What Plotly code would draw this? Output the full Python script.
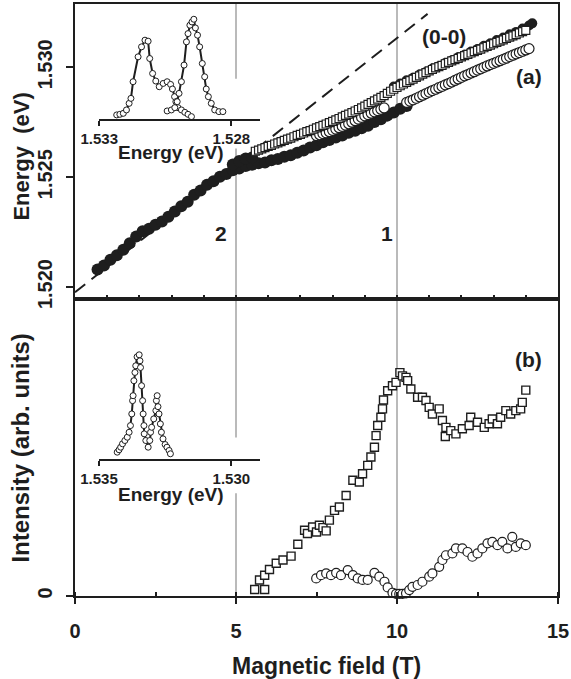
import plotly.graph_objects as go

# ---------------- data ----------------
x_ticks = [0, 5, 10, 15]
x_tick_labels = ["0", "5", "10", "15"]
energy_ticks = [1.520, 1.525, 1.530]
energy_tick_labels = ["1.520", "1.525", "1.530"]

# (a) filled circles, lower branch (plus a few points near 5-6 T)
B_filled_low = [0.7, 0.9, 1.1, 1.3, 1.5, 1.7, 1.9, 2.1, 2.3, 2.5, 2.7, 2.9, 3.1, 3.3, 3.5, 3.7, 3.9,
                4.1, 4.3, 4.5, 4.7, 4.9, 5.1, 5.3, 5.5, 5.7, 5.9, 6.1, 6.3, 6.5, 6.7, 6.9, 7.1, 7.3,
                7.5, 7.7, 7.9, 8.1, 8.3, 8.5, 8.7, 8.9, 9.1, 9.3, 9.5, 9.7, 9.9, 10.1, 10.3,
                4.9, 5.1, 5.3, 5.5]
E_filled_low = [1.52080, 1.52098, 1.52124, 1.52145, 1.52170, 1.52199, 1.52230, 1.52254, 1.52265,
                1.52283, 1.52298, 1.52320, 1.52344, 1.52368, 1.52388, 1.52420, 1.52439, 1.52465,
                1.52481, 1.52502, 1.52514, 1.52531, 1.52539, 1.52551, 1.52557, 1.52563, 1.52567,
                1.52577, 1.52583, 1.52593, 1.52600, 1.52611, 1.52621, 1.52635, 1.52645, 1.52659,
                1.52669, 1.52681, 1.52690, 1.52702, 1.52711, 1.52723, 1.52734, 1.52751, 1.52764,
                1.52780, 1.52794, 1.52811, 1.52824,
                1.52558, 1.52574, 1.52585, 1.52590]

# (a) filled circles, upper branch
B_filled_high = [9.9, 10.1, 10.3, 10.5, 10.7, 10.9, 11.1, 11.3, 11.5, 11.7, 11.9, 12.1, 12.3, 12.5,
                 12.7, 12.9, 13.1, 13.3, 13.5, 13.7, 13.9, 14.1, 14.2]
E_filled_high = [1.52912, 1.52926, 1.52941, 1.52952, 1.52967, 1.52979, 1.52994, 1.53005, 1.53020,
                 1.53031, 1.53046, 1.53057, 1.53072, 1.53083, 1.53098, 1.53109, 1.53124, 1.53135,
                 1.53150, 1.53161, 1.53176, 1.53190, 1.53200]

# (a) open squares
B_squares_a = [5.6, 5.7, 5.8, 5.9, 6.0, 6.1, 6.2, 6.3, 6.4, 6.5, 6.6, 6.7, 6.8, 6.9, 7.0, 7.1, 7.2,
               7.3, 7.4, 7.5, 7.6, 7.7, 7.8, 7.9, 8.0, 8.1, 8.2, 8.3, 8.4, 8.5, 8.6, 8.7, 8.8, 8.9,
               9.0, 9.1, 9.2, 9.3, 9.4, 9.5, 9.6, 9.7, 9.8, 9.9, 10.0, 10.1, 10.2, 10.3, 10.4, 10.5,
               10.6, 10.7, 10.8, 10.9, 11.0, 11.1, 11.2, 11.3, 11.4, 11.5, 11.6, 11.7, 11.8, 11.9,
               12.0, 12.1, 12.2, 12.3, 12.4, 12.5, 12.6, 12.7, 12.8, 12.9, 13.0, 13.1, 13.2, 13.3,
               13.4, 13.5, 13.6, 13.7, 13.8, 13.9, 14.0]
E_squares_a = [1.52618, 1.52623, 1.52629, 1.52634, 1.52640, 1.52645, 1.52651, 1.52656, 1.52662,
               1.52667, 1.52673, 1.52678, 1.52684, 1.52690, 1.52695, 1.52701, 1.52707, 1.52712,
               1.52718, 1.52724, 1.52730, 1.52736, 1.52742, 1.52748, 1.52754, 1.52761, 1.52767,
               1.52774, 1.52781, 1.52787, 1.52794, 1.52801, 1.52808, 1.52815, 1.52823, 1.52831,
               1.52839, 1.52847, 1.52855, 1.52863, 1.52871, 1.52881, 1.52891, 1.52900, 1.52908,
               1.52916, 1.52924, 1.52931, 1.52939, 1.52946, 1.52954, 1.52961, 1.52969, 1.52976,
               1.52984, 1.52990, 1.52997, 1.53003, 1.53009, 1.53016, 1.53022, 1.53029, 1.53035,
               1.53041, 1.53047, 1.53053, 1.53059, 1.53065, 1.53071, 1.53077, 1.53083, 1.53089,
               1.53095, 1.53101, 1.53107, 1.53113, 1.53119, 1.53125, 1.53131, 1.53137, 1.53143,
               1.53149, 1.53156, 1.53162, 1.53168]

# (a) open circles
B_circles_a = [7.5, 7.6, 7.7, 7.8, 7.9, 8.0, 8.1, 8.2, 8.3, 8.4, 8.5, 8.6, 8.7, 8.8, 8.9, 9.0, 9.1,
               9.2, 9.3, 9.4, 9.5, 9.6,
               10.3, 10.4, 10.5, 10.6, 10.7, 10.8, 10.9, 11.0, 11.1, 11.2, 11.3, 11.4, 11.5, 11.6,
               11.7, 11.8, 11.9, 12.0, 12.1, 12.2, 12.3, 12.4, 12.5, 12.6, 12.7, 12.8, 12.9, 13.0,
               13.1, 13.2, 13.3, 13.4, 13.5, 13.6, 13.7, 13.8, 13.9, 14.0, 14.1]
E_circles_a = [1.52689, 1.52693, 1.52698, 1.52702, 1.52707, 1.52713, 1.52719, 1.52725, 1.52731,
               1.52737, 1.52743, 1.52750, 1.52757, 1.52764, 1.52772, 1.52779, 1.52785, 1.52791,
               1.52797, 1.52803, 1.52809, 1.52815,
               1.52840, 1.52846, 1.52852, 1.52859, 1.52866, 1.52873, 1.52880, 1.52887, 1.52894,
               1.52900, 1.52907, 1.52913, 1.52920, 1.52926, 1.52933, 1.52940, 1.52947, 1.52954,
               1.52961, 1.52967, 1.52974, 1.52980, 1.52987, 1.52993, 1.53000, 1.53006, 1.53012,
               1.53018, 1.53024, 1.53030, 1.53036, 1.53042, 1.53049, 1.53055, 1.53061, 1.53067,
               1.53073, 1.53079, 1.53085]

# (0-0) dashed line end points
B_zero = [0.0, 10.95]
E_zero = [1.51976, 1.53243]

# (b) intensities, open squares
B_squares_b = [5.58, 5.73, 5.89, 5.89, 6.04, 6.25, 6.46, 6.71, 6.92, 7.13, 7.22, 7.38, 7.5, 7.59,
               7.7, 7.80, 7.90, 8.06, 8.21, 8.42, 8.63, 8.83, 8.93, 9.09, 9.19, 9.30, 9.35, 9.40,
               9.50, 9.55, 9.58, 9.71, 9.86, 9.97, 10.09, 10.17, 10.28, 10.33, 10.43, 10.64, 10.79,
               10.90, 11.00, 11.10, 11.31, 11.41, 11.50, 11.52, 11.67, 11.83, 12.03, 12.24, 12.29,
               12.50, 12.71, 12.86, 12.96, 13.12, 13.22, 13.38, 13.53, 13.69, 13.84, 13.89, 14.00]
I_squares_b = [2.2, 5.4, 2.2, 7.0, 8.9, 11.0, 12.1, 13.4, 17.4, 22.1, 21.0, 23.2, 21.5, 23.8, 23.0,
               21.9, 25.5, 28.8, 29.9, 33.8, 38.9, 38.3, 41.1, 43.9, 46.7, 50.0, 53.9, 57.3, 60.1,
               62.9, 65.9, 69.0, 70.7, 71.8, 75.1, 74.0, 73.5, 72.4, 69.6, 66.8, 66.8, 65.7, 63.4,
               61.2, 62.9, 59.0, 53.6, 56.7, 55.6, 54.5, 56.2, 57.3, 60.1, 58.4, 56.7, 57.9, 59.5,
               57.9, 60.1, 62.3, 61.2, 62.3, 62.9, 65.1, 69.2]

# (b) intensities, open circles
B_circles_b = [7.49, 7.64, 7.80, 7.95, 8.11, 8.26, 8.47, 8.63, 8.78, 8.93, 9.09, 9.30, 9.45, 9.61,
               9.71, 9.86, 9.97, 10.07, 10.17, 10.28, 10.38, 10.48, 10.64, 10.79, 11.00, 11.10,
               11.31, 11.41, 11.52, 11.72, 11.83, 12.03, 12.19, 12.34, 12.50, 12.65, 12.81, 12.96,
               13.12, 13.27, 13.43, 13.58, 13.69, 13.84, 14.00]
I_circles_b = [5.9, 7.0, 7.6, 7.0, 7.8, 7.0, 8.7, 7.0, 5.9, 5.4, 5.4, 7.8, 6.5, 4.8, 2.9, 1.1, 0.7,
               0.7, 0.7, 0.9, 2.0, 3.1, 3.7, 4.8, 6.5, 7.6, 9.8, 12.1, 13.7, 14.3, 16.0, 16.0, 14.8,
               13.2, 14.3, 16.0, 17.7, 18.2, 17.1, 18.2, 16.0, 19.9, 16.5, 17.7, 17.1]

# inset (a): two spectra
inset_a_ticks = [1.533, 1.528]
E_inset_a1 = [1.53234, 1.53222, 1.53209, 1.53197, 1.53187, 1.53180, 1.53172, 1.53153, 1.53140,
              1.53127, 1.53115, 1.53109, 1.53098, 1.53086, 1.53073, 1.53058, 1.53043, 1.53030,
              1.53023, 1.53015, 1.53010, 1.53002, 1.52989, 1.52976, 1.52964, 1.52951]
I_inset_a1 = [3.7, 4.3, 5.3, 8.7, 15.3, 20.3, 37, 62, 72, 78.7, 77.7, 60.3, 45.3, 37.7, 32, 35.3,
              37, 34.3, 29.7, 22, 17, 11, 8.7, 6.3, 4.3, 2]
E_inset_a2 = [1.53043, 1.53027, 1.53014, 1.53005, 1.52998, 1.52989, 1.52979, 1.52970, 1.52964,
              1.52957, 1.52949, 1.52942, 1.52936, 1.52928, 1.52920, 1.52910, 1.52901, 1.52895,
              1.52887, 1.52876, 1.52863, 1.52847, 1.52832]
I_inset_a2 = [7.7, 8.7, 11, 17, 25.3, 37, 53.7, 77, 85.3, 93.7, 97, 99.7, 91, 83.7, 72, 55.3, 42,
              29.7, 22, 15.3, 8.7, 7, 7]

# inset (b): one spectrum
inset_b_ticks = [1.535, 1.530]
E_inset_b = [1.53431, 1.53424, 1.53418, 1.53411, 1.53402, 1.53393, 1.53386, 1.53381, 1.53376,
             1.53373, 1.53371, 1.53368, 1.53364, 1.53361, 1.53356, 1.53348, 1.53345, 1.53343,
             1.53339, 1.53335, 1.53333, 1.53330, 1.53329, 1.53323, 1.53314, 1.53308, 1.53305,
             1.53301, 1.53293, 1.53285, 1.53283, 1.53280, 1.53277, 1.53273, 1.53268, 1.53264,
             1.53258, 1.53250, 1.53243, 1.53235, 1.53230]
I_inset_b = [7.3, 9.7, 12.3, 15.7, 19, 22.3, 27.3, 34, 45.7, 59, 64, 79, 87.3, 94, 103, 105, 99,
             92.3, 74, 59, 45.7, 34, 25.7, 19, 12.3, 19, 27.3, 32.3, 40.7, 49, 59, 64, 53, 45.7,
             35.7, 27.3, 20.7, 15, 12.3, 9, 5.7]

# ---------------- style ----------------
W, H = 571, 679
L, R, T, Bm = 75, 12, 2, 83
PW, PH = W - L - R, H - T - Bm
FONT = "Liberation Sans, Arial, sans-serif"
INK = "#1e1e1e"
GRAY = "#a3a3a3"


def px(xp):
    return (xp - L) / PW


def py(yp):
    return (T + PH - yp) / PH


split = py(297.5)

fig = go.Figure()

# top panel traces
fig.add_trace(go.Scatter(x=B_zero, y=E_zero, mode="lines", xaxis="x2", yaxis="y2",
                         line=dict(color=INK, width=2, dash="13px,8px"), showlegend=False))
fig.add_trace(go.Scatter(x=B_filled_low, y=E_filled_low, mode="markers", xaxis="x2", yaxis="y2",
                         marker=dict(symbol="circle", size=12, color=INK, line=dict(width=0)),
                         showlegend=False))
fig.add_trace(go.Scatter(x=B_filled_high, y=E_filled_high, mode="markers", xaxis="x2", yaxis="y2",
                         marker=dict(symbol="circle", size=10, color=INK, line=dict(width=0)),
                         showlegend=False))
fig.add_trace(go.Scatter(x=B_circles_a, y=E_circles_a, mode="markers", xaxis="x2", yaxis="y2",
                         marker=dict(symbol="circle", size=10, color="white",
                                     line=dict(color=INK, width=1.2)), showlegend=False))
fig.add_trace(go.Scatter(x=B_squares_a, y=E_squares_a, mode="markers", xaxis="x2", yaxis="y2",
                         marker=dict(symbol="square", size=8, color="white",
                                     line=dict(color=INK, width=1.2)), showlegend=False))

# bottom panel traces
fig.add_trace(go.Scatter(x=B_squares_b, y=I_squares_b, mode="markers", xaxis="x", yaxis="y",
                         cliponaxis=False,
                         marker=dict(symbol="square", size=8, color="white",
                                     line=dict(color=INK, width=1.4)), showlegend=False))
fig.add_trace(go.Scatter(x=B_circles_b, y=I_circles_b, mode="markers", xaxis="x", yaxis="y",
                         cliponaxis=False,
                         marker=dict(symbol="circle", size=9, color="white",
                                     line=dict(color=INK, width=1.2)), showlegend=False))

# insets
fig.add_trace(go.Scatter(x=E_inset_a1, y=I_inset_a1, mode="lines+markers", xaxis="x3", yaxis="y3",
                         cliponaxis=False, line=dict(color=INK, width=2),
                         marker=dict(symbol="circle", size=6, color="white",
                                     line=dict(color=INK, width=1)), showlegend=False))
fig.add_trace(go.Scatter(x=E_inset_a2, y=I_inset_a2, mode="lines+markers", xaxis="x3", yaxis="y3",
                         cliponaxis=False, line=dict(color=INK, width=2),
                         marker=dict(symbol="circle", size=6, color="white",
                                     line=dict(color=INK, width=1)), showlegend=False))
fig.add_trace(go.Scatter(x=E_inset_b, y=I_inset_b, mode="lines+markers", xaxis="x4", yaxis="y4",
                         cliponaxis=False, line=dict(color=INK, width=2),
                         marker=dict(symbol="circle", size=6, color="white",
                                     line=dict(color=INK, width=1)), showlegend=False))

tick_font = dict(family=FONT, size=20, color=INK, weight="bold")
inset_tick_font = dict(family=FONT, size=15, color=INK, weight="bold")

axis_common = dict(showgrid=False, zeroline=False, showline=True, linewidth=2, linecolor=INK,
                   mirror=True)

fig.update_layout(
    width=W, height=H,
    margin=dict(l=L, r=R, t=T, b=Bm, pad=0),
    paper_bgcolor="white", plot_bgcolor="rgba(0,0,0,0)",
    showlegend=False,
    xaxis=dict(domain=[0, 1], range=[0, 15], anchor="y", tickmode="array", tickvals=x_ticks,
               ticktext=x_tick_labels, ticks="outside", ticklen=6, tickwidth=2, tickcolor=INK,
               tickfont=tick_font, ticklabelstandoff=10,
               minor=dict(tickmode="linear", tick0=0, dtick=2.5, ticks="inside", ticklen=4,
                          tickwidth=1.5, tickcolor=INK, showgrid=False),
               **axis_common),
    yaxis=dict(domain=[0, split], range=[0, 100], anchor="x", tickmode="array", tickvals=[0],
               ticktext=["0"], tickangle=-90, ticks="outside", ticklen=7, tickwidth=2,
               tickcolor=INK, tickfont=tick_font, ticklabelstandoff=6, **axis_common),
    xaxis2=dict(domain=[0, 1], range=[0, 15], anchor="y2", tickmode="linear", tick0=0, dtick=1,
                ticks="inside", ticklen=4, tickwidth=1.5, tickcolor=INK, showticklabels=False,
                **axis_common),
    yaxis2=dict(domain=[split, 1], range=[1.519478, 1.53288], anchor="x2", tickmode="array",
                tickvals=energy_ticks, ticktext=energy_tick_labels, tickangle=-90,
                ticks="outside", ticklen=7, tickwidth=2, tickcolor=INK, tickfont=tick_font,
                ticklabelstandoff=6, **axis_common),
    xaxis3=dict(domain=[px(99.3), px(260)], range=[1.533, 1.52693], anchor="y3",
                tickmode="array", tickvals=inset_a_ticks, ticktext=["1.533", "1.528"],
                ticks="outside", ticklen=5, tickwidth=2, tickcolor=INK, tickfont=inset_tick_font,
                ticklabelstandoff=0, showgrid=False, zeroline=False, showline=True, linewidth=2,
                linecolor=INK),
    yaxis3=dict(domain=[py(117), py(10)], range=[0, 107], anchor="x3", visible=False),
    xaxis4=dict(domain=[px(99), px(260)], range=[1.535, 1.52893], anchor="y4",
                tickmode="array", tickvals=inset_b_ticks, ticktext=["1.535", "1.530"],
                ticks="outside", ticklen=5, tickwidth=2, tickcolor=INK, tickfont=inset_tick_font,
                ticklabelstandoff=0, showgrid=False, zeroline=False, showline=True, linewidth=2,
                linecolor=INK),
    yaxis4=dict(domain=[py(459), py(340)], range=[0, 119], anchor="x4", visible=False),
)

# gray guide lines at 5 T and 10 T
segments = [(5, py(77), 1.0), (5, py(437), py(147)), (5, 0.0, py(493)), (10, 0.0, 1.0)]
for xv, y0, y1 in segments:
    fig.add_shape(type="line", xref="x", yref="paper", x0=xv, x1=xv, y0=y0, y1=y1,
                  line=dict(color=GRAY, width=1.5), layer="below")

title_font = dict(family=FONT, size=23, color=INK, weight="bold")
ytitle_font = dict(family=FONT, size=22, color=INK, weight="bold")
int_title_font = dict(family=FONT, size=24, color=INK, weight="bold")
label_font = dict(family=FONT, size=21, color=INK, weight="bold")
inset_title_font = dict(family=FONT, size=19, color=INK, weight="bold")

ann = [
    dict(text="Magnetic field (T)", x=px(327), y=py(666), font=title_font, textangle=0),
    dict(text="Energy  (eV)", x=px(21), y=py(155), font=ytitle_font, textangle=-90),
    dict(text="Intensity (arb. units)", x=px(20), y=py(448), font=int_title_font, textangle=-90),
    dict(text="Energy (eV)", x=px(171), y=py(151), font=inset_title_font, textangle=0),
    dict(text="Energy (eV)", x=px(171), y=py(494), font=inset_title_font, textangle=0),
    dict(text="(0-0)", x=px(445), y=py(35), font=label_font, textangle=0),
    dict(text="(a)", x=px(530), y=py(75), font=label_font, textangle=0),
    dict(text="(b)", x=px(529), y=py(359), font=label_font, textangle=0),
    dict(text="2", x=px(221), y=py(232), font=label_font, textangle=0),
    dict(text="1", x=px(388), y=py(232), font=label_font, textangle=0),
]
for a in ann:
    fig.add_annotation(xref="paper", yref="paper", showarrow=False, xanchor="center",
                       yanchor="middle", **a)

fig.write_html("out.html", config={"displayModeBar": False},
               post_script="document.body.style.margin='0';document.body.style.overflow='hidden';")
